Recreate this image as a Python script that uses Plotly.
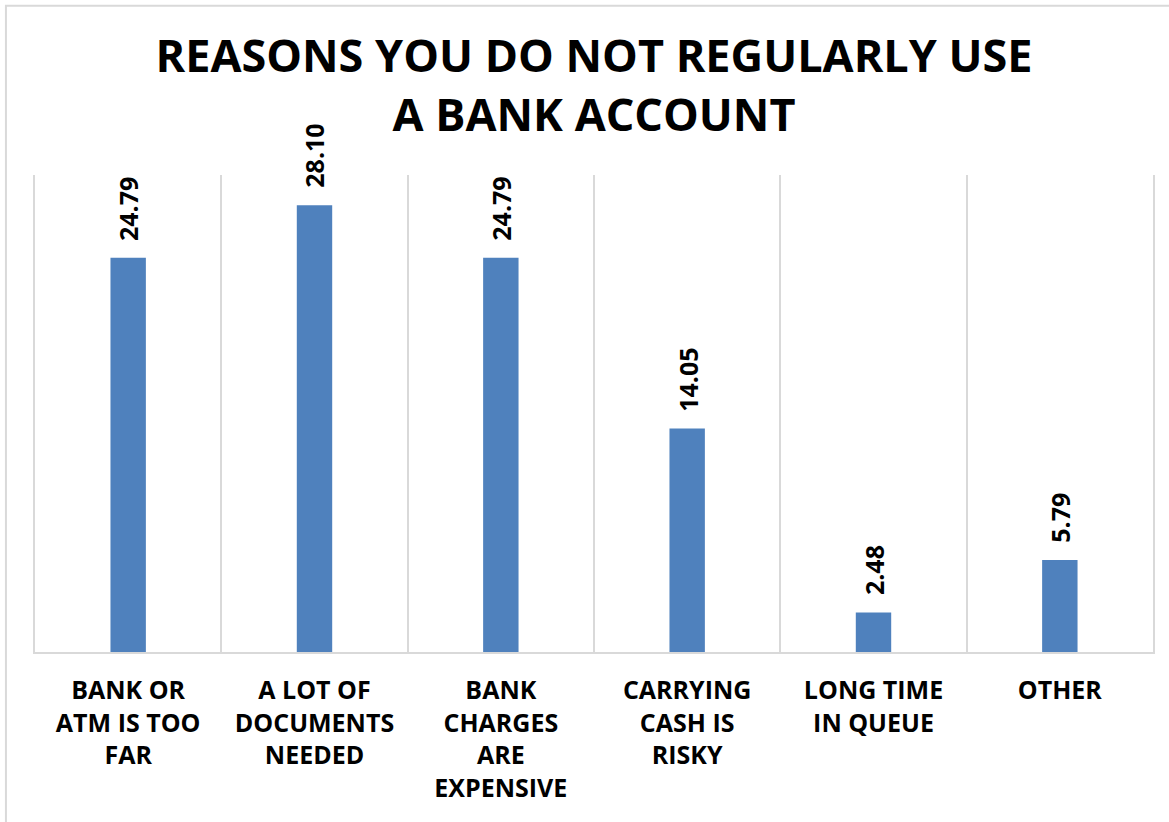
import plotly.graph_objects as go

# Survey results: reasons respondents give for not regularly using a bank account (%)
categories = [
    "BANK OR<br>ATM IS TOO<br>FAR",
    "A LOT OF<br>DOCUMENTS<br>NEEDED",
    "BANK<br>CHARGES<br>ARE<br>EXPENSIVE",
    "CARRYING<br>CASH IS<br>RISKY",
    "LONG TIME<br>IN QUEUE",
    "OTHER",
]
shares = [24.79, 28.10, 24.79, 14.05, 2.48, 5.79]

BAR_BLUE = "#4F81BD"
GRID_GREY = "#D9D9D9"
FONT = "Open Sans"

fig = go.Figure()
fig.add_trace(
    go.Bar(
        x=categories,
        y=shares,
        width=0.19,
        marker=dict(color=BAR_BLUE, line=dict(width=0)),
        hoverinfo="x+y",
    )
)

# Rotated value labels above each bar
for cat, val in zip(categories, shares):
    fig.add_annotation(
        x=cat,
        y=val,
        text=f"{val:.2f}",
        textangle=-90,
        showarrow=False,
        xanchor="center",
        yanchor="bottom",
        yshift=15,
        font=dict(family=FONT, size=25, color="#000000", weight="bold"),
    )

# Light grey frame around the whole chart
fig.add_shape(
    type="rect",
    xref="paper",
    yref="paper",
    x0=-0.026,
    x1=1.03,
    y0=-0.5,
    y1=1.355,
    line=dict(color=GRID_GREY, width=2),
    fillcolor="rgba(0,0,0,0)",
    layer="below",
)

fig.update_layout(
    width=1169,
    height=822,
    margin=dict(l=35, r=16, t=175, b=170),
    paper_bgcolor="white",
    plot_bgcolor="white",
    showlegend=False,
    title=dict(
        text="REASONS YOU DO NOT REGULARLY USE<br>A BANK ACCOUNT",
        x=0.5,
        xref="paper",
        xanchor="center",
        y=1 - 72 / 822,
        yref="container",
        yanchor="middle",
        font=dict(family=FONT, size=45, color="#000000", weight="bold"),
    ),
    xaxis=dict(
        type="category",
        tickson="boundaries",
        showgrid=True,
        gridcolor=GRID_GREY,
        gridwidth=2,
        showline=True,
        linecolor=GRID_GREY,
        linewidth=2,
        ticks="",
        tickangle=0,
        ticklabelstandoff=15,
        tickfont=dict(family=FONT, size=25, color="#000000", weight="bold"),
        fixedrange=True,
    ),
    yaxis=dict(
        range=[0, 30],
        showgrid=False,
        zeroline=False,
        showticklabels=False,
        showline=True,
        mirror=True,
        linecolor=GRID_GREY,
        linewidth=2,
        ticks="",
        fixedrange=True,
    ),
)

fig.write_html("out.html")
